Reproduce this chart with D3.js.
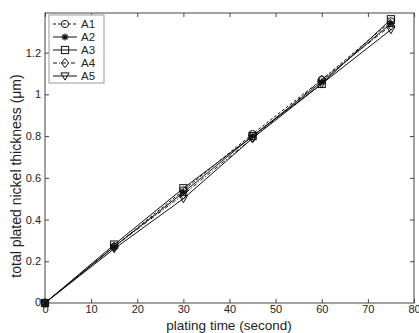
<!DOCTYPE html>
<html><head><meta charset="utf-8">
<script src="https://cdn.jsdelivr.net/npm/d3@7"></script>
<style>body{margin:0;background:#fff;} text{font-family:"Liberation Sans",Arial,sans-serif;fill:#222;}</style>
</head><body>
<svg id="c" width="419" height="333"></svg>
<script>
const times = [0, 15, 30, 45, 60, 75];
const seriesNames = ["A1", "A2", "A3", "A4", "A5"];
const A1 = [0, 0.27, 0.54, 0.81, 1.07, 1.35];
const A2 = [0, 0.27, 0.53, 0.80, 1.06, 1.34];
const A3 = [0, 0.28, 0.55, 0.80, 1.05, 1.36];
const A4 = [0, 0.27, 0.52, 0.79, 1.07, 1.33];
const A5 = [0, 0.26, 0.50, 0.79, 1.05, 1.31];
const xTicks = [0, 10, 20, 30, 40, 50, 60, 70, 80];
const yTicks = [0.2, 0.4, 0.6, 0.8, 1, 1.2];
const yTickLabels = ["0.2", "0.4", "0.6", "0.8", "1", "1.2"];

const seriesValues = [A1, A2, A3, A4, A5];
const markers = ["circle", "star", "square", "diamond", "tridown"];
const dashes = ["3,2", null, null, "4,2,1,2", null];

const svg = d3.select("#c");
const L = 45, R = 414, T = 13, B = 303;
const x = d3.scaleLinear().domain([0, 80]).range([L, R]);
const y = d3.scaleLinear().domain([0, 1.39]).range([B, T]);

svg.append("rect").attr("x", L).attr("y", T).attr("width", R - L).attr("height", B - T)
  .attr("fill", "none").attr("stroke", "#444").attr("stroke-width", 1);

svg.append("g").attr("transform", `translate(0,${B})`)
  .call(d3.axisBottom(x).tickValues(xTicks).tickSize(-4).tickPadding(2).tickFormat(d3.format("d")));
svg.append("g").attr("transform", `translate(${L},0)`)
  .call(d3.axisLeft(y).tickValues(yTicks).tickSize(-4).tickPadding(4).tickFormat((d, i) => yTickLabels[i]));
svg.append("g").attr("transform", `translate(0,${T})`)
  .call(d3.axisTop(x).tickValues(xTicks).tickSize(-4).tickFormat(""));
svg.append("g").attr("transform", `translate(${R},0)`)
  .call(d3.axisRight(y).tickValues(yTicks).tickSize(-4).tickFormat(""));
svg.selectAll(".domain").remove();
svg.selectAll(".tick line").attr("stroke", "#444");
svg.selectAll(".tick text").attr("font-size", 11).attr("fill", "#222")
  .style("font-family", "Liberation Sans, Arial, sans-serif");
svg.append("text").attr("x", L - 4).attr("y", y(0) - 1).attr("dy", "0.32em")
  .attr("text-anchor", "end").attr("font-size", 11).text("0");

svg.append("text").attr("x", 229).attr("y", 330).attr("text-anchor", "middle")
  .attr("font-size", 13.5).text("plating time (second)");
svg.append("text").attr("transform", `translate(21,176) rotate(-90)`)
  .attr("text-anchor", "middle").attr("font-size", 14).text("total plated nickel thickness (\u03bcm)");

function drawMarker(g, type, cx, cy) {
  const s = 3.6;
  if (type === "circle") g.append("circle").attr("cx", cx).attr("cy", cy).attr("r", s).attr("fill", "none").attr("stroke", "#111");
  else if (type === "square") g.append("rect").attr("x", cx - s).attr("y", cy - s).attr("width", 2 * s).attr("height", 2 * s).attr("fill", "none").attr("stroke", "#111");
  else if (type === "diamond") g.append("path").attr("d", `M${cx},${cy - s - 1}L${cx + s},${cy}L${cx},${cy + s + 1}L${cx - s},${cy}Z`).attr("fill", "none").attr("stroke", "#111");
  else if (type === "tridown") g.append("path").attr("d", `M${cx - s - 0.5},${cy - s + 0.5}L${cx + s + 0.5},${cy - s + 0.5}L${cx},${cy + s + 0.5}Z`).attr("fill", "none").attr("stroke", "#111");
  else if (type === "star") {
    let d = "";
    for (let k = 0; k < 4; k++) {
      const a = k * Math.PI / 4;
      d += `M${cx - s * Math.cos(a)},${cy - s * Math.sin(a)}L${cx + s * Math.cos(a)},${cy + s * Math.sin(a)}`;
    }
    g.append("path").attr("d", d).attr("stroke", "#111").attr("stroke-width", 1.2);
  }
}

const line = d3.line().x((d, i) => x(times[i])).y(d => y(d));
seriesValues.forEach((vals, si) => {
  const g = svg.append("g");
  g.append("path").datum(vals).attr("d", line).attr("fill", "none").attr("stroke", "#111")
    .attr("stroke-width", 1).attr("stroke-dasharray", dashes[si]);
  vals.forEach((v, i) => drawMarker(g, markers[si], x(times[i]), y(v)));
});

const lg = svg.append("g");
lg.append("rect").attr("x", 49).attr("y", 15).attr("width", 55).attr("height", 68)
  .attr("fill", "#fff").attr("stroke", "#999");
seriesNames.forEach((nm, i) => {
  const ly = 24 + i * 13;
  lg.append("line").attr("x1", 53).attr("x2", 77).attr("y1", ly).attr("y2", ly)
    .attr("stroke", "#111").attr("stroke-dasharray", dashes[i]);
  drawMarker(lg, markers[i], 65, ly);
  lg.append("text").attr("x", 81).attr("y", ly).attr("dy", "0.35em").attr("font-size", 11.5).text(nm);
});
</script>
</body></html>
